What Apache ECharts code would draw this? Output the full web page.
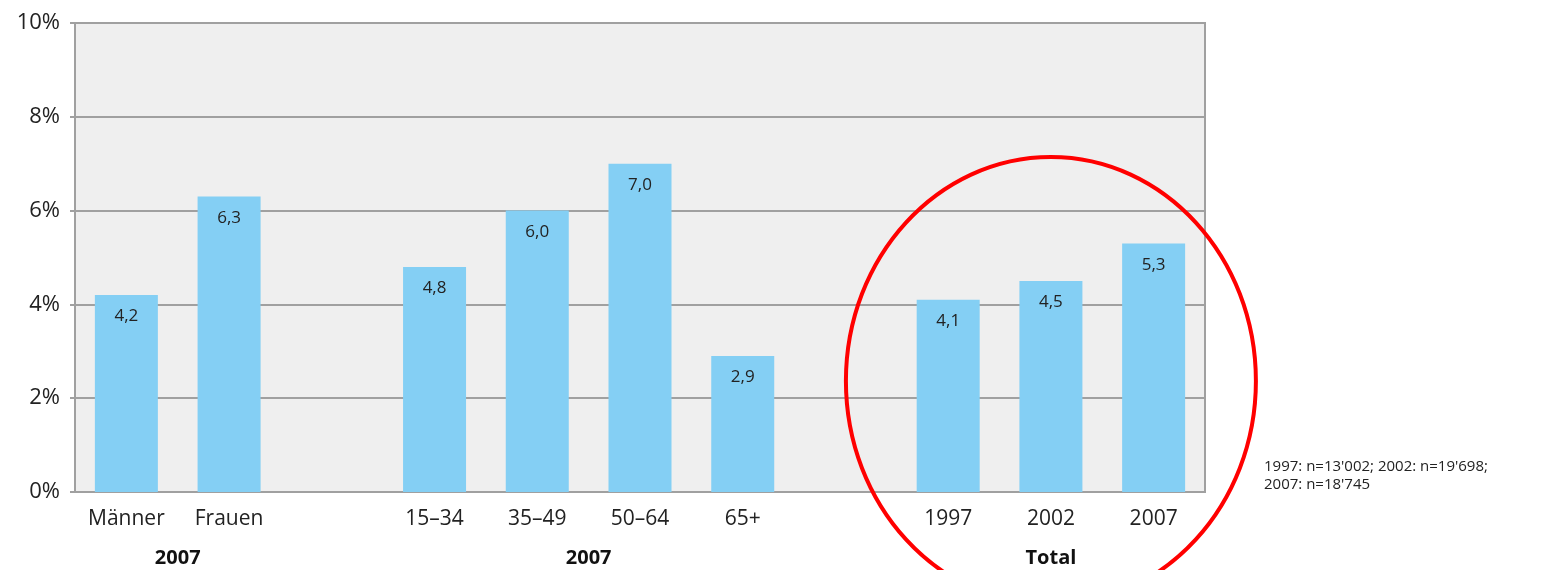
<!DOCTYPE html>
<html>
<head>
	<meta charset="utf-8">
	<title>Anteil nach Gruppe</title>
	<script src="https://cdn.jsdelivr.net/npm/echarts@6/dist/echarts.min.js"></script>
	<style type="text/css">
		* {
			padding: 0;
			margin: 0;
		}
		body {
			background: #fff;
		}
		#chart {
			width: 1562px;
			height: 570px;
		}
	</style>
</head>
<body>
	<div id="chart"></div>
	<script type="text/javascript">
		// categories (blank slots are the gaps between the groups)
		var categories = ['Männer', 'Frauen', ' ', '15–34', '35–49', '50–64', '65+', '  ', '1997', '2002', '2007'];
		var values = [4.2, 6.3, null, 4.8, 6.0, 7.0, 2.9, null, 4.1, 4.5, 5.3];
		var groupNames = ['2007', '2007', 'Total'];
		var groupFirst = [0, 3, 8];
		var groupLast = [1, 6, 10];
		var yTicks = [0, 2, 4, 6, 8, 10];
		var noteLines = ["1997: n=13'002; 2002: n=19'698;", "2007: n=18'745"];

		var font = "'Open Sans', 'Liberation Sans', sans-serif";
		var myChart = echarts.init(document.getElementById('chart'));

		var option = {
			animation: false,
			grid: {
				left: 75,
				right: 357,
				top: 23,
				bottom: 78,
				show: true,
				backgroundColor: '#efefef',
				borderColor: '#a0a0a0',
				borderWidth: 2
			},
			xAxis: {
				type: 'category',
				data: categories,
				axisTick: { show: false },
				axisLine: { lineStyle: { color: '#a0a0a0', width: 2 } },
				axisLabel: {
					color: '#222',
					fontSize: 21,
					fontFamily: font,
					margin: 17,
					interval: 0
				}
			},
			yAxis: {
				type: 'value',
				min: yTicks[0],
				max: yTicks[yTicks.length - 1],
				interval: 2,
				axisLine: { show: true, lineStyle: { color: '#a0a0a0', width: 2 } },
				axisTick: { show: true, length: 5, lineStyle: { color: '#a0a0a0', width: 2 } },
				splitLine: { lineStyle: { color: '#a0a0a0', width: 2 } },
				axisLabel: {
					color: '#222',
					fontSize: 22,
					fontFamily: font,
					margin: 15,
					formatter: '{value}%'
				}
			},
			series: [
			{
				type: 'bar',
				data: values,
				barWidth: 63,
				itemStyle: { color: '#84cff4' },
				label: {
					show: true,
					position: 'insideTop',
					distance: 13,
					color: '#222',
					fontSize: 17,
					fontFamily: font,
					formatter: function (p) {
						return p.value.toFixed(1).replace('.', ',');
					}
				}
			}
			]
		};
		myChart.setOption(option);

		// group labels under the category labels, the ring and the note
		var graphics = [];
		for (let i = 0; i < groupNames.length; i++) {
			let x1 = myChart.convertToPixel({ xAxisIndex: 0 }, groupFirst[i]);
			let x2 = myChart.convertToPixel({ xAxisIndex: 0 }, groupLast[i]);
			graphics.push({
				type: 'text',
				x: (x1 + x2) / 2,
				y: 558,
				style: {
					text: groupNames[i],
					fill: '#111',
					font: 'bold 20px ' + font,
					textAlign: 'center',
					textVerticalAlign: 'middle'
				}
			});
		}
		let cx = myChart.convertToPixel({ xAxisIndex: 0 }, 9);
		graphics.push({
			type: 'ellipse',
			shape: { cx: cx, cy: 381, rx: 205, ry: 224 },
			style: { fill: null, stroke: '#ff0000', lineWidth: 4 },
			z: 100
		});
		for (let i = 0; i < noteLines.length; i++) {
			graphics.push({
				type: 'text',
				x: 1264,
				y: 467 + i * 18,
				style: {
					text: noteLines[i],
					fill: '#222',
					font: '15px ' + font,
					textAlign: 'left',
					textVerticalAlign: 'middle'
				}
			});
		}
		myChart.setOption({ graphic: graphics });
	</script>
</body>
</html>
